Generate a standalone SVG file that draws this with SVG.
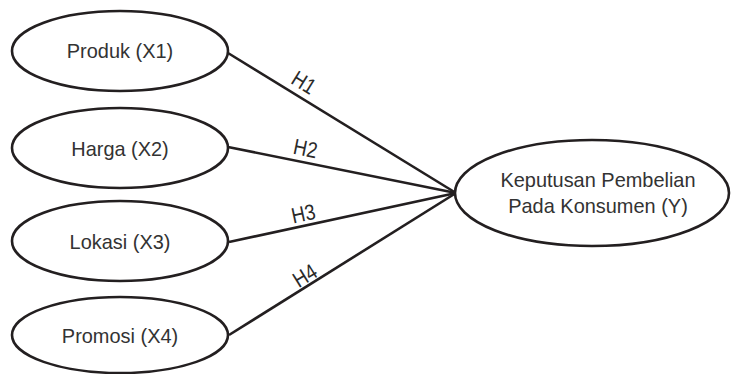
<svg xmlns="http://www.w3.org/2000/svg" width="732" height="374" viewBox="0 0 732 374">
<style>
.n ellipse{fill:#fff;stroke:#231f20;stroke-width:2.6}
.n text{font-family:"Liberation Sans",Arial,sans-serif;font-size:21px;fill:#333;text-anchor:middle}
#connectors line{stroke:#231f20;stroke-width:2.6}
#connectors text{font-family:"Liberation Sans",Arial,sans-serif;font-size:22px;fill:#2a2a2a;text-anchor:middle}
</style>
<rect width="732" height="374" fill="#fff"/>
<g id="connectors">
<line x1="228" y1="53" x2="456" y2="193"/>
<line x1="228" y1="147" x2="456" y2="193"/>
<line x1="229" y1="242" x2="456" y2="193"/>
<line x1="229" y1="335" x2="456" y2="193"/>
<text transform="translate(300,89) rotate(31.8) scale(0.85,1)">H1</text>
<text transform="translate(304,156) rotate(11.5) scale(0.85,1)">H2</text>
<text transform="translate(305,221) rotate(-12.2) scale(0.85,1)">H3</text>
<text transform="translate(309,282) rotate(-32) scale(0.85,1)">H4</text>
</g>
<g id="x1" class="n"><ellipse cx="120" cy="51" rx="108" ry="40"/><text transform="translate(120,58) scale(0.95,1)">Produk (X1)</text></g>
<g id="x2" class="n"><ellipse cx="120" cy="148" rx="108" ry="40"/><text transform="translate(120,156) scale(0.95,1)">Harga (X2)</text></g>
<g id="x3" class="n"><ellipse cx="120" cy="241" rx="108" ry="40"/><text transform="translate(120,249) scale(0.95,1)">Lokasi (X3)</text></g>
<g id="x4" class="n"><ellipse cx="120" cy="335" rx="108" ry="38"/><text transform="translate(120,343) scale(0.95,1)">Promosi (X4)</text></g>
<g id="y" class="n"><ellipse cx="592" cy="193" rx="137" ry="53"/><text transform="translate(598,187) scale(0.95,1)">Keputusan Pembelian</text><text transform="translate(598,213) scale(0.95,1)">Pada Konsumen (Y)</text></g>
</svg>
